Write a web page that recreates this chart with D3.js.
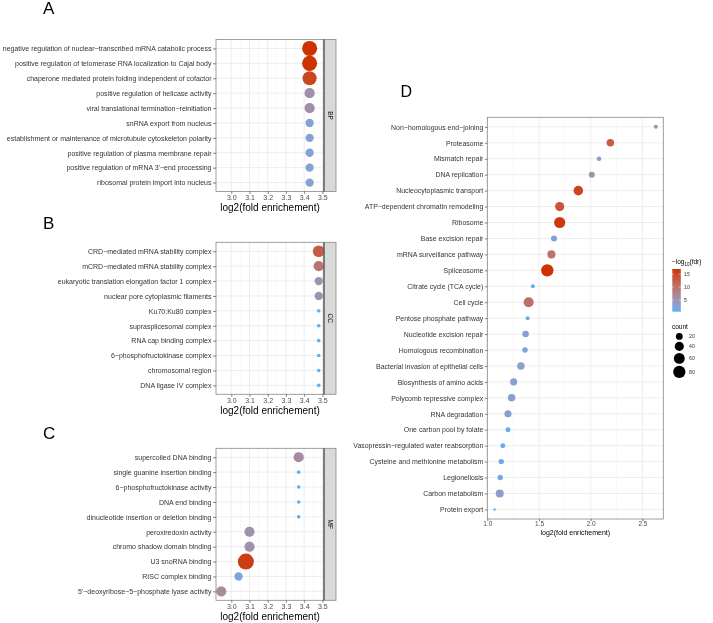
<!DOCTYPE html>
<html><head><meta charset="utf-8">
<script src="https://cdn.jsdelivr.net/npm/d3@7"></script>
<style>body{margin:0;background:#fff;} svg{display:block;font-family:"Liberation Sans",Arial,sans-serif;will-change:transform;-webkit-font-smoothing:antialiased;}</style>
</head><body>
<script>
// ---------------- DATA ----------------
const bpTerms = ["negative regulation of nuclear\u2212transcribed mRNA catabolic process","positive regulation of telomerase RNA localization to Cajal body","chaperone mediated protein folding independent of cofactor","positive regulation of helicase activity","viral translational termination\u2212reinitiation","snRNA export from nucleus","establishment or maintenance of microtubule cytoskeleton polarity","positive regulation of plasma membrane repair","positive regulation of mRNA 3'\u2212end processing","ribosomal protein import into nucleus"];
const bpFold  = [3.43,3.43,3.43,3.43,3.43,3.43,3.43,3.43,3.43,3.43];
const bpCount = [7,7,6,3,3,2,2,2,2,2];
const bpScore = [10,10,9,3.2,3.2,1.3,1.3,1.3,1.3,1.3];

const ccTerms = ["CRD\u2212mediated mRNA stability complex","mCRD\u2212mediated mRNA stability complex","eukaryotic translation elongation factor 1 complex","nuclear pore cytoplasmic filaments","Ku70:Ku80 complex","suprasplicesomal complex","RNA cap binding complex","6\u2212phosphofructokinase complex","chromosomal region","DNA ligase IV complex"];
const ccFold  = [3.48,3.48,3.48,3.48,3.48,3.48,3.48,3.48,3.48,3.48];
const ccCount = [4,3,2,2,1,1,1,1,1,1];
const ccScore = [7.5,5.5,3,3,0.2,0.2,0.2,0.2,0.2,0.2];

const mfTerms = ["supercoiled DNA binding","single guanine insertion binding","6\u2212phosphofructokinase activity","DNA end binding","dinucleotide insertion or deletion binding","peroxiredoxin activity","chromo shadow domain binding","U3 snoRNA binding","RISC complex binding","5'\u2212deoxyribose\u22125\u2212phosphate lyase activity"];
const mfFold  = [3.37,3.37,3.37,3.37,3.37,3.10,3.10,3.08,3.04,2.945];
const mfCount = [3,1,1,1,1,3,3,8,2,3];
const mfScore = [3.5,0,0,0,0,3,3,9.5,1.2,3.6];

const abcTicks = [3.0,3.1,3.2,3.3,3.4,3.5];

const keggTerms = ["Non\u2212homologous end\u2212joining","Proteasome","Mismatch repair","DNA replication","Nucleocytoplasmic transport","ATP\u2212dependent chromatin remodeling","Ribosome","Base excision repair","mRNA surveillance pathway","Spliceosome","Citrate cycle (TCA cycle)","Cell cycle","Pentose phosphate pathway","Nucleotide excision repair","Homologous recombination","Bacterial invasion of epithelial cells","Biosynthesis of amino acids","Polycomb repressive complex","RNA degradation","One carbon pool by folate","Vasopressin\u2212regulated water reabsorption","Cysteine and methionine metabolism","Legionellosis","Carbon metabolism","Protein export"];
const keggFold  = [2.63,2.19,2.08,2.01,1.88,1.70,1.70,1.645,1.62,1.58,1.44,1.40,1.39,1.37,1.365,1.325,1.255,1.235,1.20,1.20,1.15,1.135,1.125,1.12,1.07];
const keggCount = [7,25,9,15,44,40,64,15,30,82,7,51,7,18,12,25,22,25,22,10,10,12,12,30,5];
const keggFdr   = [4.6,12.9,3.8,5.5,15.4,13.7,16.5,3.0,9.6,17.0,1.0,10.4,1.0,3.0,2.2,3.5,3.0,3.3,3.0,1.3,1.3,1.8,1.8,3.5,0.6];

const keggTicks = [1.0,1.5,2.0,2.5];
const legendFdr = [5,10,15];
const legendCount = [20,40,60,80];

// ---------------- STYLE ----------------
const LOW = "#56B1F7", HIGH = "#CC3300";
const W = 713, H = 623;
const svg = d3.select("body").append("svg").attr("width", W).attr("height", H);
const labelSize = 7.0, tickCol = "#4D4D4D", FONT = "Liberation Sans, Arial, sans-serif";

// shared scales for A-C
const xABC = d3.scaleLinear().domain([2.916, 3.509]).range([216, 324]);
const allScore = bpScore.concat(ccScore, mfScore);
const colABC = d3.scaleLinear().domain(d3.extent(allScore)).range([LOW, HIGH]).interpolate(d3.interpolateLab);
const allCount = bpCount.concat(ccCount, mfCount);
const [cMin, cMax] = d3.extent(allCount);
const sABC = d3.scaleSqrt().domain([0, cMax - cMin]).range([0, 6.2]);
const rABC = c => 1.8 + sABC(c - cMin);

function facet(letter, letterY, top, terms, fold, count, score, strip) {
  const bottom = top + 152;
  const g = svg.append("g");
  g.append("text").attr("x", 43).attr("y", letterY).attr("font-size", 17).attr("fill", "#000").text(letter);
  const y = d3.scalePoint().domain(terms).range([top, bottom]).padding(0.6);
  const [x0, x1] = xABC.range();
  g.append("rect").attr("x", x0).attr("y", top).attr("width", x1 - x0).attr("height", bottom - top).attr("fill", "#fff");
  const minors = abcTicks.slice(0, -1).map(t => t + 0.05).concat([abcTicks[0] - 0.05]);
  g.selectAll(".mi").data(minors.filter(v => v > xABC.domain()[0])).join("line")
    .attr("x1", d => xABC(d)).attr("x2", d => xABC(d)).attr("y1", top).attr("y2", bottom)
    .attr("stroke", "#F3F3F3").attr("stroke-width", 0.5);
  g.selectAll(".ma").data(abcTicks).join("line")
    .attr("x1", d => xABC(d)).attr("x2", d => xABC(d)).attr("y1", top).attr("y2", bottom)
    .attr("stroke", "#E8E8E8").attr("stroke-width", 0.8);
  g.selectAll(".hy").data(terms).join("line")
    .attr("x1", x0).attr("x2", x1).attr("y1", d => y(d)).attr("y2", d => y(d))
    .attr("stroke", "#E8E8E8").attr("stroke-width", 0.8);
  const data = terms.map((t, i) => ({t, f: fold[i], c: count[i], s: score[i]}));
  g.selectAll("circle").data(data).join("circle")
    .attr("cx", d => xABC(d.f)).attr("cy", d => y(d.t)).attr("r", d => rABC(d.c))
    .attr("fill", d => colABC(d.s));
  g.append("rect").attr("x", x0).attr("y", top).attr("width", x1 - x0).attr("height", bottom - top)
    .attr("fill", "none").attr("stroke", "#888").attr("stroke-width", 0.8);
  g.append("rect").attr("x", x1).attr("y", top).attr("width", 12).attr("height", bottom - top)
    .attr("fill", "#D9D9D9").attr("stroke", "#888").attr("stroke-width", 0.8);
  g.append("line").attr("x1", x1).attr("x2", x1).attr("y1", top).attr("y2", bottom).attr("stroke", "#333").attr("stroke-width", 0.9);
  g.append("text").attr("transform", `translate(${x1 + 6},${(top + bottom) / 2}) rotate(90)`)
    .attr("text-anchor", "middle").attr("dy", "0.35em").attr("font-size", 6.5).attr("fill", "#1A1A1A").text(strip);
  const ya = d3.axisLeft(y).tickSize(3).tickPadding(1.5);
  const yg = g.append("g").attr("transform", `translate(${x0},0)`).call(ya);
  yg.select(".domain").remove();
  yg.selectAll(".tick line").attr("stroke", "#333").attr("stroke-width", 0.6);
  yg.selectAll(".tick text").attr("font-size", labelSize).attr("fill", "#333").attr("font-family", FONT);
  const xa = d3.axisBottom(xABC).tickValues(abcTicks).tickFormat(d3.format(".1f")).tickSize(2.5).tickPadding(1.5);
  const xg = g.append("g").attr("transform", `translate(0,${bottom})`).call(xa);
  xg.select(".domain").remove();
  xg.selectAll(".tick line").attr("stroke", "#333").attr("stroke-width", 0.6);
  xg.selectAll(".tick text").attr("font-size", labelSize).attr("fill", tickCol).attr("font-family", FONT);
  g.append("text").attr("x", (x0 + x1) / 2).attr("y", bottom + 19.5).attr("text-anchor", "middle")
    .attr("font-size", 10).attr("fill", "#000").text("log2(fold enrichement)");
}

facet("A", 14, 39.5, bpTerms, bpFold, bpCount, bpScore, "BP");
facet("B", 229, 242.3, ccTerms, ccFold, ccCount, ccScore, "CC");
facet("C", 439, 448.3, mfTerms, mfFold, mfCount, mfScore, "MF");

// ---------------- PANEL D ----------------
const dTop = 117.3, dBot = 519, dL = 487.3, dR = 663.3;
const xD = d3.scaleLinear().domain([1.0, 2.702]).range([dL, dR]);
const yD = d3.scalePoint().domain(keggTerms).range([dTop, dBot]).padding(0.6);
const colD = d3.scaleLinear().domain([0.5, 17.0]).range([LOW, HIGH]).interpolate(d3.interpolateLab);
const [kMin, kMax] = d3.extent(keggCount);
const sD = d3.scaleSqrt().domain([0, kMax - kMin]).range([0, 5]);
const rD = c => 1.2 + sD(c - kMin);

const gD = svg.append("g");
gD.append("text").attr("x", 400.5).attr("y", 97).attr("font-size", 16).text("D");
const dMinor = [1.25, 1.75, 2.25];
gD.selectAll(".mi").data(dMinor).join("line")
  .attr("x1", d => xD(d)).attr("x2", d => xD(d)).attr("y1", dTop).attr("y2", dBot)
  .attr("stroke", "#F3F3F3").attr("stroke-width", 0.5);
gD.selectAll(".ma").data(keggTicks).join("line")
  .attr("x1", d => xD(d)).attr("x2", d => xD(d)).attr("y1", dTop).attr("y2", dBot)
  .attr("stroke", "#E8E8E8").attr("stroke-width", 0.8);
gD.selectAll(".hy").data(keggTerms).join("line")
  .attr("x1", dL).attr("x2", dR).attr("y1", d => yD(d)).attr("y2", d => yD(d))
  .attr("stroke", "#E8E8E8").attr("stroke-width", 0.8);
const dData = keggTerms.map((t, i) => ({t, f: keggFold[i], c: keggCount[i], s: keggFdr[i]}));
gD.selectAll("circle").data(dData).join("circle")
  .attr("cx", d => xD(d.f)).attr("cy", d => yD(d.t)).attr("r", d => rD(d.c))
  .attr("fill", d => colD(d.s));
gD.append("rect").attr("x", dL).attr("y", dTop).attr("width", dR - dL).attr("height", dBot - dTop)
  .attr("fill", "none").attr("stroke", "#888").attr("stroke-width", 0.8);
const yaD = gD.append("g").attr("transform", `translate(${dL},0)`).call(d3.axisLeft(yD).tickSize(2.5).tickPadding(1.5));
yaD.select(".domain").remove();
yaD.selectAll(".tick line").attr("stroke", "#333").attr("stroke-width", 0.6);
yaD.selectAll(".tick text").attr("font-size", 6.95).attr("fill", "#333").attr("font-family", FONT);
const xaD = gD.append("g").attr("transform", `translate(0,${dBot})`).call(d3.axisBottom(xD).tickValues(keggTicks).tickFormat(d3.format(".1f")).tickSize(2.2).tickPadding(0.5));
xaD.select(".domain").remove();
xaD.selectAll(".tick line").attr("stroke", "#333").attr("stroke-width", 0.6);
xaD.selectAll(".tick text").attr("font-size", 6.5).attr("fill", tickCol).attr("font-family", FONT);
gD.append("text").attr("x", (dL + dR) / 2).attr("y", 535).attr("text-anchor", "middle")
  .attr("font-size", 7.0).attr("fill", "#000").text("log2(fold enrichement)");

// ---------------- LEGENDS ----------------
const lg = svg.append("g");
const t1 = lg.append("text").attr("x", 672).attr("y", 264).attr("font-size", 6.5).attr("fill", "#000");
t1.append("tspan").text("\u2212log");
t1.append("tspan").attr("font-size", 4.5).attr("dy", 1.5).text("10");
t1.append("tspan").attr("dy", -1.5).text("(fdr)");
const barTop = 269, barBot = 311.7, barX = 672.3, barW = 8.5;
const defs = svg.append("defs");
const grad = defs.append("linearGradient").attr("id", "cg").attr("x1", 0).attr("x2", 0).attr("y1", 1).attr("y2", 0);
d3.range(0, 1.0001, 0.05).forEach(t => {
  grad.append("stop").attr("offset", t).attr("stop-color", colD(colD.domain()[0] + t * (colD.domain()[1] - colD.domain()[0])));
});
lg.append("rect").attr("x", barX).attr("y", barTop).attr("width", barW).attr("height", barBot - barTop).attr("fill", "url(#cg)");
const yBar = d3.scaleLinear().domain(colD.domain()).range([barBot, barTop]);
lg.selectAll(".bt").data(legendFdr).join("g").each(function (d) {
  const gg = d3.select(this);
  gg.append("line").attr("x1", barX).attr("x2", barX + 1.7).attr("y1", yBar(d)).attr("y2", yBar(d)).attr("stroke", "#fff").attr("stroke-width", 0.5);
  gg.append("line").attr("x1", barX + barW - 1.7).attr("x2", barX + barW).attr("y1", yBar(d)).attr("y2", yBar(d)).attr("stroke", "#fff").attr("stroke-width", 0.5);
  gg.append("text").attr("x", 684).attr("y", yBar(d)).attr("dy", "0.35em").attr("font-size", 5.2).attr("fill", "#333").text(d);
});
lg.append("text").attr("x", 672).attr("y", 329).attr("font-size", 6.5).attr("fill", "#000").text("count");
let cy = 332;
legendCount.forEach(c => {
  const r = rD(c), h = 2 * r + 2;
  const yy = cy + h / 2;
  lg.append("circle").attr("cx", 679.3).attr("cy", yy).attr("r", r).attr("fill", "#000");
  lg.append("text").attr("x", 689).attr("y", yy).attr("dy", "0.35em").attr("font-size", 5.2).attr("fill", "#333").text(c);
  cy += h;
});
</script>
</body></html>
